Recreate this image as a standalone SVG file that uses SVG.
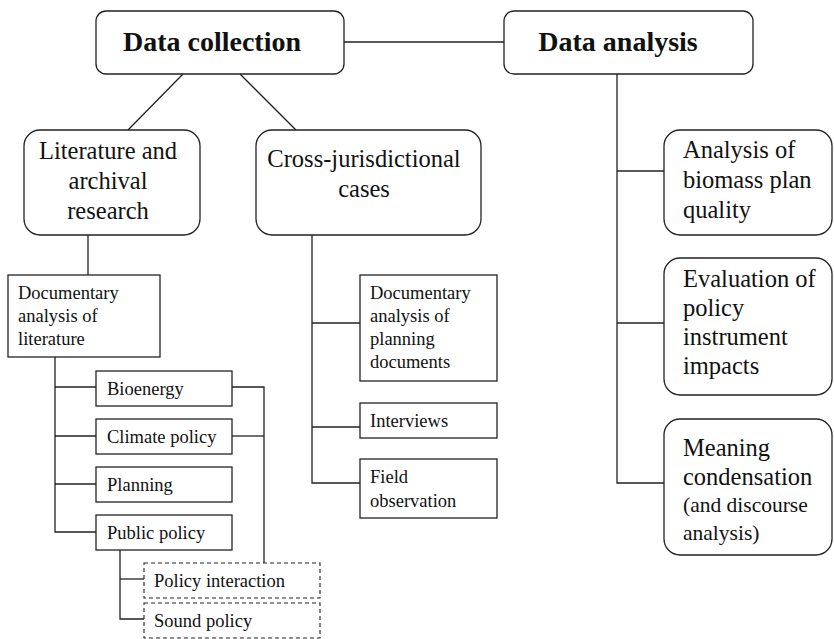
<svg xmlns="http://www.w3.org/2000/svg" width="834" height="639" viewBox="0 0 834 639">
<style>
.box{fill:#fff;stroke:#222;stroke-width:1.3}
.dash{fill:#fff;stroke:#222;stroke-width:1.1;stroke-dasharray:4 3}
.ln{fill:none;stroke:#222;stroke-width:1.3}
text{font-family:'Liberation Serif','Times New Roman',serif;fill:#111}
.h{font-size:28px;font-weight:bold}
.m{font-size:24.5px}
.s{font-size:18.5px}
.s2{font-size:21.5px}
</style>
<rect width="834" height="639" fill="#fff"/>
<g id="connectors">
<line class="ln" x1="344" y1="42" x2="504" y2="42"/>
<line class="ln" x1="183" y1="74" x2="128" y2="130"/>
<line class="ln" x1="240" y1="74" x2="296" y2="130"/>
<line class="ln" x1="88" y1="235" x2="88" y2="275"/>
<polyline class="ln" points="55,357 55,532 96,532"/>
<line class="ln" x1="55" y1="387" x2="96" y2="387"/>
<line class="ln" x1="55" y1="436" x2="96" y2="436"/>
<line class="ln" x1="55" y1="484" x2="96" y2="484"/>
<polyline class="ln" points="232,387 264,387 264,563"/>
<line class="ln" x1="232" y1="436" x2="264" y2="436"/>
<polyline class="ln" points="120,550 120,619 144,619"/>
<line class="ln" x1="120" y1="579" x2="144" y2="579"/>
<polyline class="ln" points="312,235 312,483 360,483"/>
<line class="ln" x1="312" y1="323" x2="360" y2="323"/>
<line class="ln" x1="312" y1="427" x2="360" y2="427"/>
<polyline class="ln" points="617,74 617,483 664,483"/>
<line class="ln" x1="617" y1="171" x2="664" y2="171"/>
<line class="ln" x1="617" y1="323" x2="664" y2="323"/>
</g>
<g id="data-collection">
<rect class="box" x="96" y="11" width="248" height="63" rx="10"/>
<text class="h" x="212" y="51" text-anchor="middle">Data collection</text>
</g>
<g id="data-analysis">
<rect class="box" x="504" y="11" width="249" height="63" rx="10"/>
<text class="h" x="618" y="51" text-anchor="middle">Data analysis</text>
</g>
<g id="literature">
<rect class="box" x="24" y="130" width="176" height="105" rx="16"/>
<text class="m" text-anchor="middle"><tspan x="108" y="159">Literature and</tspan><tspan x="108" y="189">archival</tspan><tspan x="108" y="219">research</tspan></text>
</g>
<g id="cross">
<rect class="box" x="256" y="130" width="225" height="105" rx="16"/>
<text class="m" text-anchor="middle"><tspan x="364" y="167">Cross-jurisdictional</tspan><tspan x="364" y="197">cases</tspan></text>
</g>
<g id="doc-lit">
<rect class="box" x="8" y="275" width="152" height="82"/>
<text class="s"><tspan x="18" y="299">Documentary</tspan><tspan x="18" y="322">analysis of</tspan><tspan x="18" y="345">literature</tspan></text>
</g>
<g id="bioenergy">
<rect class="box" x="96" y="371" width="136" height="35"/>
<text class="s" x="107" y="395">Bioenergy</text>
</g>
<g id="climate">
<rect class="box" x="96" y="419" width="136" height="35"/>
<text class="s" x="107" y="443">Climate policy</text>
</g>
<g id="planning">
<rect class="box" x="96" y="467" width="136" height="35"/>
<text class="s" x="107" y="491">Planning</text>
</g>
<g id="public">
<rect class="box" x="96" y="515" width="136" height="35"/>
<text class="s" x="107" y="539">Public policy</text>
</g>
<g id="policy-interaction">
<rect class="dash" x="144" y="563" width="176" height="35"/>
<text class="s" x="154" y="587">Policy interaction</text>
</g>
<g id="sound-policy">
<rect class="dash" x="144" y="603" width="176" height="35"/>
<text class="s" x="154" y="627">Sound policy</text>
</g>
<g id="doc-plan">
<rect class="box" x="360" y="275" width="137" height="106"/>
<text class="s"><tspan x="370" y="299">Documentary</tspan><tspan x="370" y="322">analysis of</tspan><tspan x="370" y="345">planning</tspan><tspan x="370" y="368">documents</tspan></text>
</g>
<g id="interviews">
<rect class="box" x="360" y="403" width="137" height="35"/>
<text class="s" x="370" y="427">Interviews</text>
</g>
<g id="field">
<rect class="box" x="360" y="459" width="137" height="59"/>
<text class="s"><tspan x="370" y="483">Field</tspan><tspan x="370" y="507">observation</tspan></text>
</g>
<g id="biomass">
<rect class="box" x="664" y="130" width="168" height="105" rx="16"/>
<text class="m"><tspan x="683" y="158">Analysis of</tspan><tspan x="683" y="188">biomass plan</tspan><tspan x="683" y="218">quality</tspan></text>
</g>
<g id="evaluation">
<rect class="box" x="664" y="258" width="168" height="137" rx="16"/>
<text class="m"><tspan x="683" y="287">Evaluation of</tspan><tspan x="683" y="316">policy</tspan><tspan x="683" y="345">instrument</tspan><tspan x="683" y="374">impacts</tspan></text>
</g>
<g id="meaning">
<rect class="box" x="664" y="419" width="168" height="136" rx="16"/>
<text class="m"><tspan x="683" y="456">Meaning</tspan><tspan x="683" y="485">condensation</tspan></text>
<text class="s2"><tspan x="683" y="512">(and discourse</tspan><tspan x="683" y="540">analysis)</tspan></text>
</g>
</svg>
